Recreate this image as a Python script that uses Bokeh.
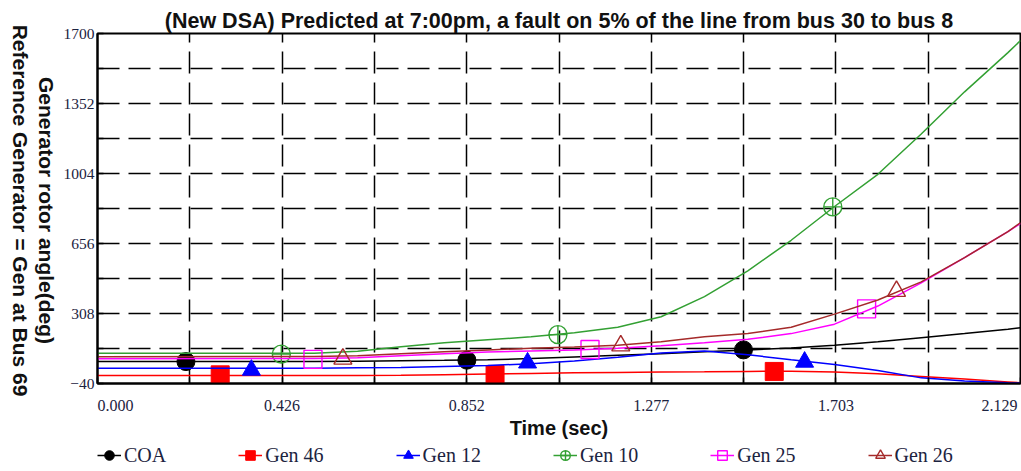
import math
from bokeh.plotting import figure
from bokeh.layouts import column, row
from bokeh.models import FixedTicker, Legend, LegendItem, LinearAxis
from bokeh.embed import file_html
from bokeh.resources import INLINE

TITLE = "(New DSA) Predicted at 7:00pm, a fault on 5% of the line from bus 30 to bus 8"
Y_LABEL_1 = "Generator rotor angle(deg)"
Y_LABEL_2 = "Reference Generator = Gen at Bus 69"
X_LABEL = "Time (sec)"

x_tick_vals = [0.0, 0.4258, 0.8516, 1.2774, 1.7032, 2.129]
x_tick_labels = ["0.000", "0.426", "0.852", "1.277", "1.703", "2.129"]
x_minor_vals = [0.2129, 0.6387, 1.0645, 1.4903, 1.9161]
y_tick_vals = [-40, 308, 656, 1004, 1352, 1700]
y_minor_vals = [134, 482, 830, 1178, 1526]

time = [0.0, 0.5, 0.6, 0.7, 0.8, 0.9, 1.0, 1.1, 1.2, 1.3, 1.4, 1.5, 1.6, 1.7, 1.8, 1.9, 2.0, 2.1, 2.129]
coa    = [69, 69, 71, 73, 75, 78, 84, 92, 100, 108, 118, 127, 137, 150, 168, 188, 208, 230, 237]
gen46  = [0, 0, 0, 1, 4, 7, 10, 13, 15, 17, 18, 20, 21, 17, 8, -5, -18, -32, -36]
gen12  = [36, 36, 38, 40, 45, 50, 58, 72, 90, 112, 122, 103, 78, 55, 25, -12, -28, -36, -38]
gen10  = [111, 111, 120, 143, 162, 177, 192, 212, 240, 292, 392, 520, 672, 840, 1000, 1200, 1410, 1605, 1665]
gen25  = [83, 84, 88, 98, 108, 116, 122, 127, 135, 148, 162, 180, 208, 255, 345, 460, 586, 715, 755]
gen26  = [93, 94, 98, 108, 118, 127, 135, 142, 150, 168, 192, 208, 240, 305, 375, 465, 586, 715, 760]

# marker positions
coa_mx,   coa_my   = [0.204, 0.852, 1.490], [69, 76, 127]
gen46_mx, gen46_my = [0.283, 0.917, 1.561], [3, 5, 20]
gen12_mx, gen12_my = [0.355, 0.992, 1.631], [27, 63, 67]
gen10_mx, gen10_my = [0.424, 1.062, 1.696], [106, 203, 838]
gen25_mx, gen25_my = [0.497, 1.136, 1.774], [80, 129, 331]
gen26_mx, gen26_my = [0.566, 1.207, 1.843], [82, 148, 419]

series = [
    ("COA",    coa,   coa_mx,   coa_my,   "#000000", "circle",       True),
    ("Gen 46", gen46, gen46_mx, gen46_my, "#ff0000", "square",       True),
    ("Gen 12", gen12, gen12_mx, gen12_my, "#0000ff", "triangle",     True),
    ("Gen 10", gen10, gen10_mx, gen10_my, "#33a033", "circle_cross", False),
    ("Gen 25", gen25, gen25_mx, gen25_my, "#ff00ff", "square",       False),
    ("Gen 26", gen26, gen26_mx, gen26_my, "#a52a2a", "triangle",     False),
]

TEXT_COL = "#1c2340"
NB = "\u00a0"

W, H = 1021, 471
LAB_W = 60            # strip holding the two vertical axis titles
MAIN_W = W - LAB_W
MAIN_H = 441
LEG_H = H - MAIN_H
FRAME_LEFT = 96 - LAB_W

# ---------------- main plot ----------------
p = figure(width=MAIN_W, height=MAIN_H, x_range=(0, 2.129), y_range=(-40, 1700),
           output_backend="svg", toolbar_location=None, title=TITLE,
           min_border_left=FRAME_LEFT, min_border_right=1, min_border_top=33, min_border_bottom=57)
p.background_fill_color = "white"
p.border_fill_color = "white"
p.outline_line_color = "black"
p.outline_line_width = 2

p.title.align = "center"
p.title.text_font = "Liberation Sans"
p.title.text_font_style = "bold"
p.title.text_font_size = "21.5px"
p.title.text_color = "#111111"
p.title.standoff = 1

xa = p.xaxis[0]
xa.ticker = FixedTicker(ticks=x_tick_vals, minor_ticks=x_minor_vals)
overrides = {}
for i, (v, t) in enumerate(zip(x_tick_vals, x_tick_labels)):
    if i == 0:
        t = NB * 9 + t
    elif i == len(x_tick_vals) - 1:
        t = t + NB
    overrides[v] = t
xa.major_label_overrides = overrides
xa.major_label_text_font = "Liberation Serif"
xa.major_label_text_font_size = "16px"
xa.major_label_text_color = TEXT_COL
xa.major_label_standoff = 13
xa.axis_label = X_LABEL
xa.axis_label_text_font = "Liberation Sans"
xa.axis_label_text_font_style = "bold"
xa.axis_label_text_font_size = "20px"
xa.axis_label_text_color = "#111111"
xa.axis_label_standoff = 0

ya = p.yaxis[0]
ya.ticker = FixedTicker(ticks=y_tick_vals, minor_ticks=y_minor_vals)
ya.major_label_text_font = "Liberation Serif"
ya.major_label_text_font_size = "15.5px"
ya.major_label_text_color = TEXT_COL
ya.major_label_standoff = 3

for ax in (xa, ya):
    ax.axis_line_color = "black"
    ax.axis_line_width = 2
    ax.major_tick_in = 6
    ax.major_tick_out = 0
    ax.minor_tick_in = 6
    ax.minor_tick_out = 0
    ax.major_tick_line_width = 1.5
    ax.minor_tick_line_width = 1.5
    ax.major_tick_line_color = "black"
    ax.minor_tick_line_color = "black"

p.xgrid.ticker = FixedTicker(ticks=x_minor_vals + x_tick_vals[1:-1])
p.ygrid.ticker = FixedTicker(ticks=y_minor_vals + y_tick_vals[1:-1])
for g in (p.xgrid[0], p.ygrid[0]):
    g.grid_line_color = "black"
    g.grid_line_width = 1.5
    g.grid_line_dash = "22 9"

# ---------------- strip with the two vertical axis titles ----------------
lab = figure(width=LAB_W, height=H, x_range=(0, 1), y_range=(0, 1),
             output_backend="svg", toolbar_location=None, title=None,
             x_axis_location=None, y_axis_location=None,
             min_border_left=0, min_border_right=0, min_border_top=36, min_border_bottom=87)
lab.outline_line_color = None
lab.xgrid.visible = False
lab.ygrid.visible = False
lab.background_fill_color = "white"
lab.border_fill_color = "white"

def title_axis(text, standoff):
    return LinearAxis(axis_label=text, ticker=FixedTicker(ticks=[]),
                      axis_line_color=None, major_tick_line_color=None, minor_tick_line_color=None,
                      major_tick_in=0, major_tick_out=0, minor_tick_in=0, minor_tick_out=0,
                      major_label_standoff=0, axis_label_standoff=standoff,
                      axis_label_text_font="Liberation Sans", axis_label_text_font_style="bold",
                      axis_label_text_font_size="21px", axis_label_text_color="#111111")

lab.add_layout(title_axis(Y_LABEL_2, 0), "right")
lab.add_layout(title_axis(Y_LABEL_1, 0), "right")

# ---------------- legend strip ----------------
lg = figure(width=MAIN_W, height=LEG_H, x_range=(0, 2.129), y_range=(5000, 6000),
            output_backend="svg", toolbar_location=None, title=None,
            x_axis_location=None, y_axis_location=None,
            min_border_left=FRAME_LEFT, min_border_right=1, min_border_top=0, min_border_bottom=0)
lg.outline_line_color = None
lg.xgrid.visible = False
lg.ygrid.visible = False
lg.background_fill_color = "white"
lg.border_fill_color = "white"

items = []
for name, ys, mx, my, col, mk, filled in series:
    fill = col if filled else None
    lw = 1 if filled else 1.4
    p.line(time, ys, line_color=col, line_width=1.5)
    p.scatter(mx, my, marker=mk, size=18, fill_color=fill, line_color=col, line_width=lw)
    # same series in the legend strip (outside its view), used only for the legend keys
    lr = lg.line(time, ys, line_color=col, line_width=1.5)
    sr = lg.scatter(mx, my, marker=mk, size=18, fill_color=fill, line_color=col, line_width=lw)
    items.append(LegendItem(label=name, renderers=[lr, sr]))

legend = Legend(items=items, orientation="horizontal", location=(0, 3),
                glyph_width=24, glyph_height=26, label_standoff=3, spacing=72,
                padding=0, margin=0,
                label_text_font="Liberation Serif", label_text_font_size="20px",
                label_text_color=TEXT_COL,
                background_fill_alpha=0, border_line_alpha=0)
lg.add_layout(legend)

layout = row(lab, column(p, lg, spacing=0), spacing=0)
open("out.html", "w").write(file_html(layout, INLINE))
